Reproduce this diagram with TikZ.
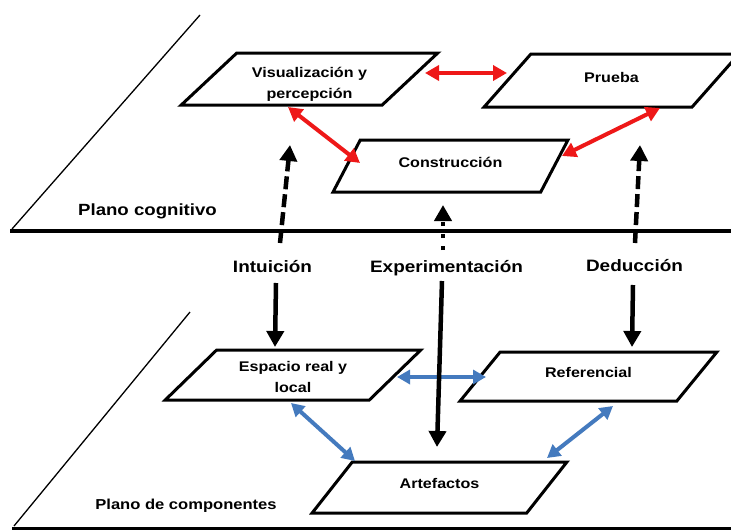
\documentclass[tikz,border=0pt]{standalone}
\usepackage{fontspec}
\newfontfamily\labfont[FakeStretch=1.15]{Liberation Sans}
\usetikzlibrary{arrows.meta,shapes.geometric}
\definecolor{linkred}{RGB}{238,24,24}
\definecolor{linkblue}{RGB}{68,122,190}
\tikzset{
  planeline/.style={draw=black, line width=4pt},
  planeedge/.style={draw=black, line width=1.3pt},
  boxnode/.style={trapezium, trapezium stretches=true, draw=black, fill=white,
    line width=3pt, inner sep=0pt, align=center, text height=10pt,
    font=\labfont\bfseries\fontsize{14}{20.5}\selectfont},
  biglabel/.style={anchor=base, inner sep=0pt, font=\labfont\bfseries\fontsize{16.5}{20}\selectfont},
  planelabel/.style={anchor=base, inner sep=0pt, font=\labfont\bfseries\fontsize{#1}{20}\selectfont},
  redlink/.style={draw=linkred, line width=4pt,
    {Triangle[length=14pt,width=15pt]}-{Triangle[length=14pt,width=15pt]}},
  bluelink/.style={draw=linkblue, line width=4pt,
    {Triangle[length=13pt,width=14pt]}-{Triangle[length=13pt,width=14pt]}},
  blacklink/.style={draw=black, line width=4.5pt, -{Triangle[length=16pt,width=17pt]}},
  dashlink/.style={blacklink, dash pattern=on 13pt off 5pt},
  dotlink/.style={blacklink, dash pattern=on 4pt off 8pt},
}
\begin{document}
\begin{tikzpicture}[x=1pt, y=-1pt]
\useasboundingbox[fill=white] (0,0) rectangle (731,530);

% two planes
\draw[planeedge] (200,15) -- (12,229);
\draw[planeline] (10,231) -- (733,231);
\draw[planeedge] (190,312) -- (14,526);
\draw[draw=black, line width=3pt] (12,528) -- (733,528);

\node[planelabel=16.2] (pcog) at (147.5,215) {Plano cognitivo};
\node[planelabel=14.4] (pcomp) at (186,509) {Plano de componentes};

% cognitive plane
\node[boxnode, minimum width=257pt, minimum height=52pt, text height=41pt, text depth=3pt,
  trapezium left angle=45, trapezium right angle=135] (vis) at (309.5,79)
  {Visualización y\\percepción};
\node[boxnode, minimum width=257pt, minimum height=53pt, text depth=7pt,
  trapezium left angle=47, trapezium right angle=133] (prueba) at (611.5,80.5) {Prueba};
\node[boxnode, minimum width=235pt, minimum height=52pt, text depth=8pt,
  trapezium left angle=49, trapezium right angle=131] (cons) at (450.5,166) {Construcción};

% component plane
\node[boxnode, minimum width=256pt, minimum height=50pt, text height=34pt, text depth=0pt,
  trapezium left angle=43, trapezium right angle=137] (esp) at (293,375)
  {Espacio real y\\local};
\node[boxnode, minimum width=257pt, minimum height=49pt, text depth=9pt,
  trapezium left angle=44, trapezium right angle=136] (ref) at (588.5,376.5) {Referencial};
\node[boxnode, minimum width=255pt, minimum height=51pt, text depth=9pt,
  trapezium left angle=46, trapezium right angle=134] (art) at (439.5,487.5) {Artefactos};

% process labels
\node[biglabel] (intu) at (272.5,272) {Intuición};
\node[biglabel] (expe) at (446.5,272) {Experimentación};
\node[biglabel] (dedu) at (634.5,271) {Deducción};

% connector end points
\coordinate (r1a) at (425,73);   \coordinate (r1b) at (507,73);
\coordinate (r2a) at (288,107);  \coordinate (r2b) at (360,163);
\coordinate (r3a) at (562,156);  \coordinate (r3b) at (660,108);
\coordinate (b1a) at (397,377);  \coordinate (b1b) at (486,377);
\coordinate (b2a) at (291,403);  \coordinate (b2b) at (355,461);
\coordinate (b3a) at (547,458);  \coordinate (b3b) at (613,406);
\coordinate (iu0) at (280,243);  \coordinate (iu1) at (290,145);
\coordinate (id0) at (276,283);  \coordinate (id1) at (275,347);
\coordinate (eu0) at (443,250);  \coordinate (eu1) at (443,205);
\coordinate (ed0) at (442,281);  \coordinate (ed1) at (437,447);
\coordinate (du0) at (635,243);  \coordinate (du1) at (640,145);
\coordinate (dd0) at (633,285);  \coordinate (dd1) at (632,347);

% links inside the cognitive plane
\draw[redlink] (r1a) -- (r1b);
\draw[redlink] (r2a) -- (r2b);
\draw[redlink] (r3a) -- (r3b);

% links inside the component plane
\draw[bluelink] (b1a) -- (b1b);
\draw[bluelink] (b2a) -- (b2b);
\draw[bluelink] (b3a) -- (b3b);

% links between the planes
\draw[dashlink] (iu0) -- (iu1);
\draw[blacklink] (id0) -- (id1);
\draw[dotlink] (eu0) -- (eu1);
\draw[blacklink] (ed0) -- (ed1);
\draw[dashlink] (du0) -- (du1);
\draw[blacklink] (dd0) -- (dd1);
\end{tikzpicture}
\end{document}
